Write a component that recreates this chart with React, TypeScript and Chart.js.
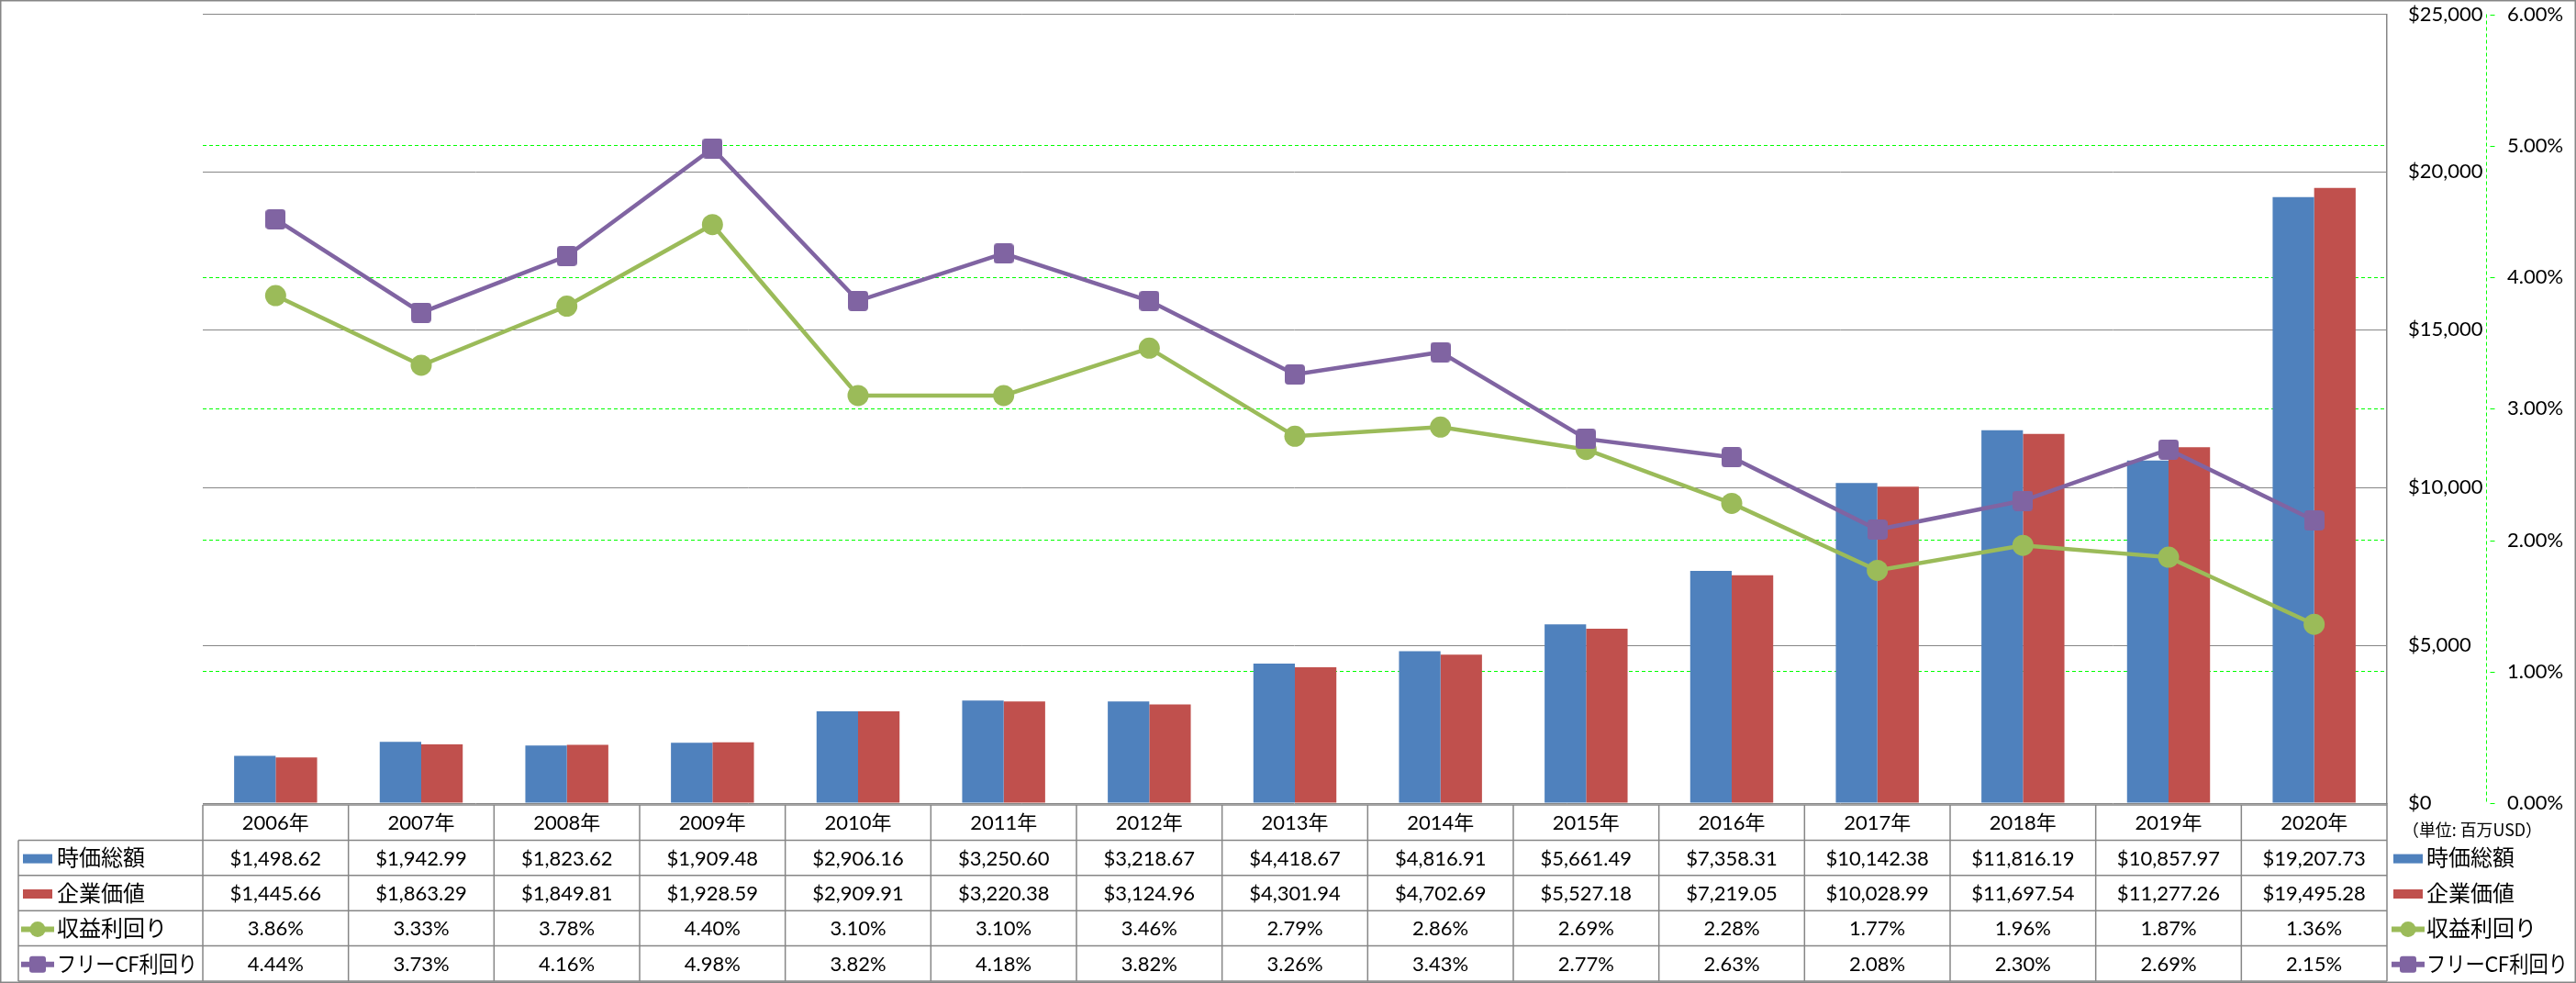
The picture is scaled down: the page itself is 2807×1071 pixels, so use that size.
import React, { useEffect, useRef } from 'react';
import { Chart, registerables } from 'chart.js';

Chart.register(...registerables);

// ---------- data ----------
const years = ['2006年', '2007年', '2008年', '2009年', '2010年', '2011年', '2012年', '2013年', '2014年', '2015年', '2016年', '2017年', '2018年', '2019年', '2020年'];
const marketCap = [1498.62, 1942.99, 1823.62, 1909.48, 2906.16, 3250.6, 3218.67, 4418.67, 4816.91, 5661.49, 7358.31, 10142.38, 11816.19, 10857.97, 19207.73];
const enterpriseValue = [1445.66, 1863.29, 1849.81, 1928.59, 2909.91, 3220.38, 3124.96, 4301.94, 4702.69, 5527.18, 7219.05, 10028.99, 11697.54, 11277.26, 19495.28];
const earningsYield = [3.86, 3.33, 3.78, 4.4, 3.1, 3.1, 3.46, 2.79, 2.86, 2.69, 2.28, 1.77, 1.96, 1.87, 1.36];
const fcfYield = [4.44, 3.73, 4.16, 4.98, 3.82, 4.18, 3.82, 3.26, 3.43, 2.77, 2.63, 2.08, 2.3, 2.69, 2.15];
const seriesNames = ['時価総額', '企業価値', '収益利回り', 'フリーCF利回り'];
const unitLabel = '（単位: 百万USD）';
const dollarAxisMax = 25000;
const dollarAxisStep = 5000;
const percentAxisMax = 6;
const percentAxisStep = 1;

// ---------- styles ----------
const BLUE = '#4F81BD';
const RED = '#C0504D';
const GREEN = '#9BBB59';
const PURPLE = '#8064A2';
const GRID_GRAY = '#868686';
const LIME = '#00FF00';
const FONT_FAMILY = 'Lato, "Noto Sans CJK JP", sans-serif';
const CJK_FAMILY = '"Noto Sans CJK JP", Lato, sans-serif';

function makeSquare(size: number, r: number, color: string) {
  const c = document.createElement('canvas');
  c.width = size;
  c.height = size;
  const g = c.getContext('2d')!;
  g.fillStyle = color;
  g.beginPath();
  (g as any).roundRect(0, 0, size, size, r);
  g.fill();
  return c;
}

const fmtDollar = (v: number) =>
  '$' + v.toLocaleString('en-US', { minimumFractionDigits: 2, maximumFractionDigits: 2 });
const fmtPct = (v: number) => v.toFixed(2) + '%';

function drawIcon(ctx: CanvasRenderingContext2D, kind: number, x: number, y: number) {
  // x = left of the icon, y = vertical center
  ctx.save();
  if (kind === 0 || kind === 1) {
    ctx.fillStyle = kind === 0 ? BLUE : RED;
    ctx.fillRect(x, y - 5, 32, 10);
  } else {
    const col = kind === 2 ? GREEN : PURPLE;
    ctx.strokeStyle = col;
    ctx.lineWidth = 6;
    ctx.beginPath();
    ctx.moveTo(x - 2, y);
    ctx.lineTo(x + 34, y);
    ctx.stroke();
    ctx.fillStyle = col;
    ctx.beginPath();
    if (kind === 2) {
      ctx.arc(x + 16, y, 8.5, 0, Math.PI * 2);
    } else {
      (ctx as any).roundRect(x + 16 - 9, y - 9, 18, 18, 3);
    }
    ctx.fill();
  }
  ctx.restore();
}

const tablePlugin = {
  id: 'dataTable',
  afterDraw(chart: any) {
    const ctx: CanvasRenderingContext2D = chart.ctx;
    const area = chart.chartArea;
    const n = years.length;
    const colW = (area.right - area.left) / n;
    const top = area.bottom + 2;
    const rowH = 38.4;
    const bottom = top + rowH * 5;
    const labelLeft = 20;

    ctx.save();
    ctx.strokeStyle = GRID_GRAY;
    ctx.lineWidth = 1.5;
    ctx.beginPath();
    ctx.moveTo(area.left, top);
    ctx.lineTo(area.right, top);
    for (let r = 1; r <= 5; r++) {
      const yy = top + r * rowH;
      ctx.moveTo(labelLeft, yy);
      ctx.lineTo(area.right, yy);
    }
    ctx.moveTo(labelLeft, top + rowH);
    ctx.lineTo(labelLeft, bottom);
    for (let i = 0; i <= n; i++) {
      const xx = area.left + i * colW;
      ctx.moveTo(xx, i === n ? area.bottom : top);
      ctx.lineTo(xx, bottom);
    }
    ctx.stroke();

    // table values
    ctx.fillStyle = '#000';
    ctx.font = `22px ${FONT_FAMILY}`;
    ctx.textAlign = 'center';
    ctx.textBaseline = 'middle';
    const rows: string[][] = [
      years,
      marketCap.map(fmtDollar),
      enterpriseValue.map(fmtDollar),
      earningsYield.map(fmtPct),
      fcfYield.map(fmtPct),
    ];
    rows.forEach((row, r) => {
      const cy = top + rowH * r + rowH / 2 + 1;
      row.forEach((txt, i) => {
        const cx = chart.scales.x.getPixelForValue(i);
        ctx.fillText(txt, cx, cy);
      });
    });

    // row labels with icons + right legend
    ctx.textAlign = 'left';
    seriesNames.forEach((name, k) => {
      const cy = top + rowH * (k + 1) + rowH / 2 + 1;
      drawIcon(ctx, k, 25, cy);
      drawIcon(ctx, k, 2608, cy);
      ctx.fillStyle = '#000';
      ctx.font = `24px ${FONT_FAMILY}`;
      ctx.fillText(name, 62, cy, 153);
      ctx.fillText(name, 2644, cy, 154);
    });

    // unit label
    ctx.font = `18px ${CJK_FAMILY}`;
    ctx.fillStyle = '#000';
    ctx.fillText(unitLabel, 2618, top + 27, 152);

    // dashed secondary axis line + short tick marks
    const y1 = chart.scales.y1;
    const ax = Math.round(y1.left) + 0.5;
    ctx.strokeStyle = LIME;
    ctx.lineWidth = 1;
    ctx.setLineDash([4, 3]);
    ctx.beginPath();
    ctx.moveTo(ax, area.top);
    ctx.lineTo(ax, area.bottom);
    ctx.stroke();
    ctx.setLineDash([]);
    ctx.beginPath();
    y1.ticks.forEach((t: any) => {
      const py = Math.round(y1.getPixelForValue(t.value)) + 0.5;
      ctx.moveTo(ax + 4, py);
      ctx.lineTo(ax + 9, py);
    });
    ctx.stroke();

    // outer border
    ctx.strokeStyle = GRID_GRAY;
    ctx.lineWidth = 1.5;
    ctx.strokeRect(0.75, 0.75, chart.width - 1.5, chart.height - 1.5);
    ctx.restore();
  },
};

export default function App() {
  const ref = useRef<HTMLCanvasElement | null>(null);

  useEffect(() => {
    document.body.style.margin = '0';
    document.body.style.overflow = 'hidden';
    const canvas = ref.current!;
    Chart.defaults.font.family = FONT_FAMILY;
    Chart.defaults.color = '#000';
    const square = makeSquare(22, 4, PURPLE);

    const chart = new Chart(canvas, {
      type: 'bar',
      data: {
        labels: years,
        datasets: [
          {
            type: 'bar',
            label: seriesNames[0],
            data: marketCap,
            backgroundColor: BLUE,
            yAxisID: 'y',
            order: 2,
            categoryPercentage: 0.57,
            barPercentage: 1,
          },
          {
            type: 'bar',
            label: seriesNames[1],
            data: enterpriseValue,
            backgroundColor: RED,
            yAxisID: 'y',
            order: 2,
            categoryPercentage: 0.57,
            barPercentage: 1,
          },
          {
            type: 'line',
            label: seriesNames[2],
            data: earningsYield,
            borderColor: GREEN,
            backgroundColor: GREEN,
            borderWidth: 4.5,
            pointRadius: 11.5,
            pointBorderWidth: 0,
            pointBackgroundColor: GREEN,
            tension: 0,
            yAxisID: 'y1',
            order: 1,
          } as any,
          {
            type: 'line',
            label: seriesNames[3],
            data: fcfYield,
            borderColor: PURPLE,
            backgroundColor: PURPLE,
            borderWidth: 4.5,
            pointRadius: 11,
            pointStyle: square,
            tension: 0,
            yAxisID: 'y1',
            order: 0,
          } as any,
        ],
      },
      options: {
        responsive: false,
        maintainAspectRatio: false,
        devicePixelRatio: 1,
        animation: false,
        layout: { padding: { left: 221, top: 15, right: 0, bottom: 196 } },
        plugins: {
          legend: { display: false },
          tooltip: { enabled: false },
        },
        scales: {
          x: { display: false },
          y: {
            position: 'right',
            weight: 0,
            min: 0,
            max: dollarAxisMax,
            ticks: {
              stepSize: dollarAxisStep,
              padding: 0,
              font: { size: 22 },
              color: '#000',
              callback: (v: any) => '$' + Number(v).toLocaleString('en-US'),
            },
            grid: { color: GRID_GRAY, lineWidth: 1, drawTicks: true, tickLength: 23, tickColor: 'rgba(0,0,0,0)' },
            border: { display: true, color: GRID_GRAY, width: 1.5 },
            afterFit: (s: any) => {
              s.width = 108;
            },
          },
          y1: {
            position: 'right',
            weight: 1,
            min: 0,
            max: percentAxisMax,
            ticks: {
              stepSize: percentAxisStep,
              padding: 0,
              font: { size: 22 },
              color: '#000',
              callback: (v: any) => Number(v).toFixed(2) + '%',
            },
            grid: {
              color: (c: any) =>
                c.tick && (c.tick.value === 0 || c.tick.value === percentAxisMax) ? 'rgba(0,0,0,0)' : LIME,
              tickColor: 'rgba(0,0,0,0)',
              tickLength: 23,
              lineWidth: 1,
            },
            border: { display: false, dash: [4, 3] },
            afterFit: (s: any) => {
              s.width = 98;
            },
          },
        },
      } as any,
      plugins: [tablePlugin],
    });
    return () => chart.destroy();
  }, []);

  return (
    <div style={{ width: 2807, height: 1071 }}>
      <canvas ref={ref} width={2807} height={1071} style={{ display: 'block', width: 2807, height: 1071 }} />
    </div>
  );
}
